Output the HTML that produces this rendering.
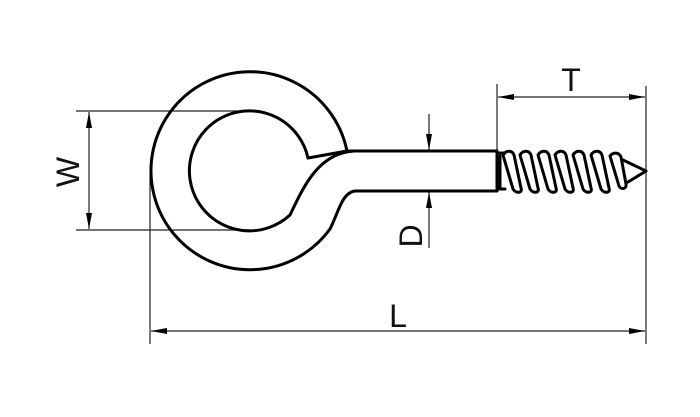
<!DOCTYPE html>
<html><head><style>html,body{margin:0;padding:0;background:#fff}svg{display:block}</style></head>
<body>
<svg width="700" height="417" viewBox="0 0 700 417" xmlns="http://www.w3.org/2000/svg">
<defs>
<marker id="a" viewBox="0 0 16 6" refX="16" refY="3" markerWidth="16" markerHeight="6" markerUnits="userSpaceOnUse" orient="auto-start-reverse">
<path d="M0,0 L16,3 L0,6 Z" fill="#000"/></marker>
</defs>
<g stroke="#222" stroke-width="1.2" fill="none">
<!-- W -->
<line x1="76" y1="111" x2="252" y2="111"/>
<line x1="76" y1="230" x2="252" y2="230"/>
<line x1="89" y1="112" x2="89" y2="229" marker-start="url(#a)" marker-end="url(#a)"/>
<!-- L -->
<line x1="150" y1="175" x2="150" y2="344"/>
<line x1="646" y1="86" x2="646" y2="344"/>
<line x1="151" y1="331" x2="645" y2="331" marker-start="url(#a)" marker-end="url(#a)"/>
<!-- T -->
<line x1="497" y1="84" x2="497" y2="150"/>
<line x1="498" y1="97" x2="645" y2="97" marker-start="url(#a)" marker-end="url(#a)"/>
<!-- D -->
<line x1="429" y1="114" x2="429" y2="150" marker-end="url(#a)"/>
<line x1="429" y1="248" x2="429" y2="192" marker-end="url(#a)"/>
</g>
<g stroke="#000" stroke-width="3" fill="none" stroke-linejoin="round" stroke-linecap="round">
<path d="M347,151 A99,99 0 1 0 330,229 C338,214 342,191 356,191 L497,191"/>
<path d="M347,151 L497,151 L497,191"/>
<path d="M308,158 A60,60 0 1 0 290,215 C303,188 318,153 354,151"/>
<path d="M308,158 L347,151"/>
<!-- thread -->
<path d="M497,153 L505,153 M497,189 L505,189"/>
<path d="M503,155 C506,150 512,150 514,155 L521,188 C523,193 516,194 513,189 Z"/>
<path d="M520,155 C523,150 529,150 531,155 L538,188 C540,193 533,194 530,189 Z"/>
<path d="M538,155 C541,150 547,150 549,155 L556,188 C558,193 551,194 548,189 Z"/>
<path d="M555,155 C558,150 564,150 566,155 L573,188 C575,193 568,194 565,189 Z"/>
<path d="M573,155 C576,150 582,150 584,155 L591,188 C593,193 586,194 583,189 Z"/>
<path d="M591,155 C594,150 600,150 602,155 L609,188 C611,193 604,194 601,189 Z"/>
<path d="M610,156 C613,152 619,152 621,157 L626,184 C627,189 621,190 619,186 Z"/>
<path d="M623,160 L646,171 L628,182"/>
<path d="M500,156 L500,187"/>
</g>
<g font-family="Liberation Sans, sans-serif" font-size="32" fill="#111">
<text x="398" y="327" text-anchor="middle">L</text>
<text x="571" y="91" text-anchor="middle">T</text>
<text transform="translate(422,236) rotate(-90)" text-anchor="middle">D</text>
<text transform="translate(79,172) rotate(-90)" text-anchor="middle">W</text>
</g>
</svg>
</body></html>
